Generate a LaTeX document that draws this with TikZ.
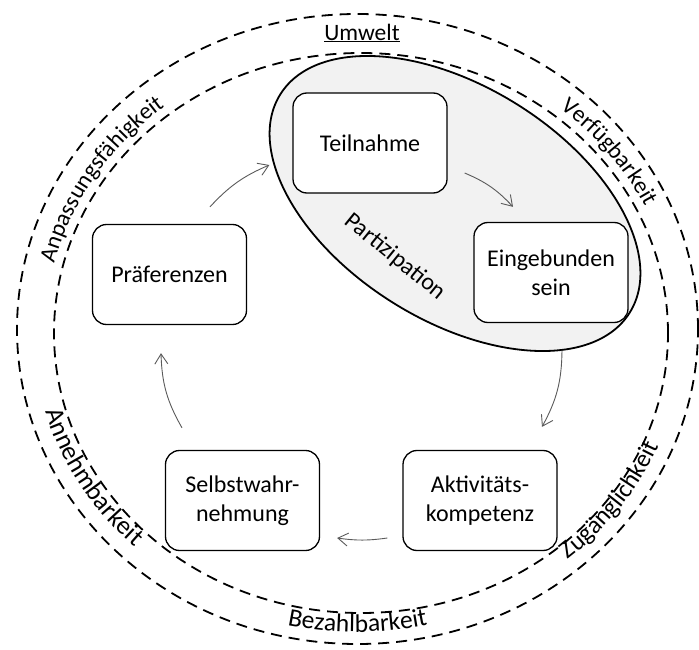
\documentclass[tikz,border=0pt]{standalone}
\usepackage{fontspec}
\setmainfont{Carlito}
\usetikzlibrary{arrows.meta,decorations.text,calc}
\definecolor{partfill}{HTML}{F2F2F2}
\definecolor{flowgray}{HTML}{5A5A5A}
\newcommand{\upperringfont}{\fontsize{23.5}{28}\selectfont}
\newcommand{\lowerringfont}{\fontsize{25.5}{30}\selectfont}

\begin{document}
\begin{tikzpicture}[x=1pt,y=1pt,
  ring/.style={draw=black, line width=1.8pt, dash pattern=on 11pt off 7pt},
  stage/.style={draw=black, line width=1.3pt, fill=white, rounded corners=14pt,
    minimum width=154pt, minimum height=100pt, align=center, inner sep=2pt,
    font=\fontsize{24}{29}\selectfont},
  flow/.style={draw=flowgray, line width=0.9pt, -{Straight Barb[length=10pt,width=13pt]}},
  ringlabel/.style={decorate, decoration={text along path, text align=center, text={#1}}}
]
\useasboundingbox (0,0) rectangle (699,649);

% environment rings
\draw[ring] (357.5,320) ellipse [x radius=340.5pt, y radius=315pt];
\draw[ring] (361,316) ellipse [x radius=307pt, y radius=280pt];

% participation area
\draw[line width=1.8pt, fill=partfill, rotate around={-32:(455,445.5)}]
  (455,445.5) ellipse [x radius=206pt, y radius=117pt];
\node[rotate=-39, font=\fontsize{24}{28}\selectfont] (part) at (395,392) {Partizipation};

% stages
\node[stage] (teil) at (370,506) {Teilnahme};
\node[stage] (eing) at (551,376.5) {Eingebunden\\sein};
\node[stage] (pref) at (169.5,374.5) {Präferenzen};
\node[stage] (selb) at (242.5,148.5) {Selbstwahr-\\nehmung};
\node[stage] (akt)  at (480,148.5) {Aktivitäts-\\kompetenz};

% cycle
\draw[flow] ($(pref.north)+(40.5,17)$) to[bend left=12] ($(teil.west)+(-23,-22)$);
\draw[flow] ($(teil.east)+(17,-30)$) to[bend left=12] ($(eing.north)+(-38,15)$);
\draw[flow] ($(eing.south)+(11,-27)$) to[bend left=14] ($(akt.north)+(62,23)$);
\draw[flow] ($(akt.west)+(-15,-37.5)$) to[bend left=8] ($(selb.east)+(17,-37.5)$);
\draw[flow] ($(selb.north)+(-60.5,22)$) to[bend left=14] ($(pref.south)+(-8.5,-28)$);

% ring labels
\node[font=\fontsize{23.5}{28}\selectfont, inner sep=0pt] (umwelt) at (362,616) {\underline{Umwelt}};
\path[ringlabel={|\upperringfont|Anpassungsfähigkeit}]
  (361,316) ++(188:316 and 289) arc [start angle=188, end angle=108, x radius=316pt, y radius=289pt];
\path[ringlabel={|\upperringfont|Verfügbarkeit}]
  (361,316) ++(67:316 and 289) arc [start angle=67, end angle=9, x radius=316pt, y radius=289pt];
\path[ringlabel={|\fontsize{26}{30}\selectfont|Annehmbarkeit}]
  (357.5,320) ++(181:325 and 299) arc [start angle=181, end angle=241, x radius=325pt, y radius=299pt];
\path[ringlabel={|\lowerringfont|Bezahlbarkeit}]
  (357.5,320) ++(240:328.5 and 303) arc [start angle=240, end angle=300, x radius=328.5pt, y radius=303pt];
\path[ringlabel={|\fontsize{25}{30}\selectfont|Zugänglichkeit}]
  (357.5,320) ++(-66:327 and 301) arc [start angle=-66, end angle=-6, x radius=327pt, y radius=301pt];
\end{tikzpicture}
\end{document}
